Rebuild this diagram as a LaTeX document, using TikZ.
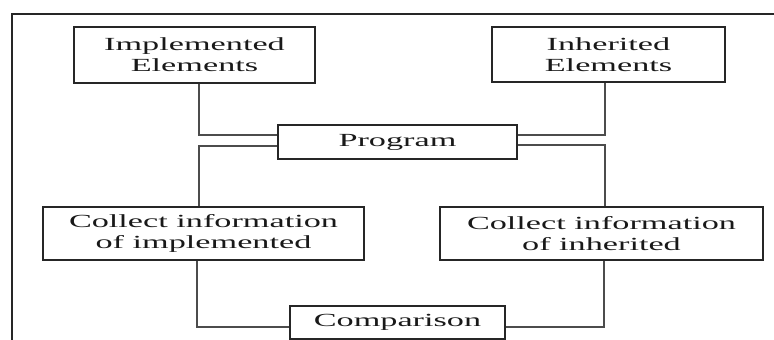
\documentclass[tikz,border=0pt]{standalone}
\usepackage{fontspec}
\setmainfont{Liberation Serif}[FakeStretch=1.85]
\begin{document}
\begin{tikzpicture}[x=1pt,y=-1pt,
  box/.style={draw=black!85,line width=1.1pt,align=center,inner sep=0pt,
    font=\fontsize{18.5}{21}\selectfont,text=black!90},
  link/.style={draw=black!70,line width=1.1pt}]
\useasboundingbox (0,0) rectangle (774,340);
\draw[black!85,line width=1.1pt] (12,340) -- (12,14) -- (774,14);
\node[box,minimum width=241pt,minimum height=56pt] (impl) at (194.5,55) {Implemented\\Elements};
\node[box,minimum width=233pt,minimum height=55pt] (inh) at (608.5,54.5) {Inherited\\Elements};
\node[box,minimum width=239pt,minimum height=34pt] (prog) at (397.5,142) {Program};
\node[box,minimum width=321pt,minimum height=53pt] (cimpl) at (203.5,233.5) {Collect information\\of implemented};
\node[box,minimum width=323pt,minimum height=53pt] (cinh) at (601.5,233.5) {Collect information\\of inherited};
\node[box,minimum width=215pt,minimum height=33pt] (comp) at (397.5,322.5) {Comparison};
\draw[link] ([xshift=4.5pt]impl.south) |- ([yshift=7pt]prog.west);
\draw[link] ([yshift=-4pt]prog.west) -| ([xshift=-4.5pt]cimpl.north);
\draw[link] ([yshift=7pt]prog.east) -| ([xshift=-3.5pt]inh.south);
\draw[link] ([yshift=-3pt]prog.east) -| ([xshift=3.5pt]cinh.north);
\draw[link] ([xshift=-6.5pt]cimpl.south) |- ([yshift=-4.5pt]comp.west);
\draw[link] ([xshift=2.5pt]cinh.south) |- ([yshift=-4.5pt]comp.east);
\end{tikzpicture}
\end{document}
